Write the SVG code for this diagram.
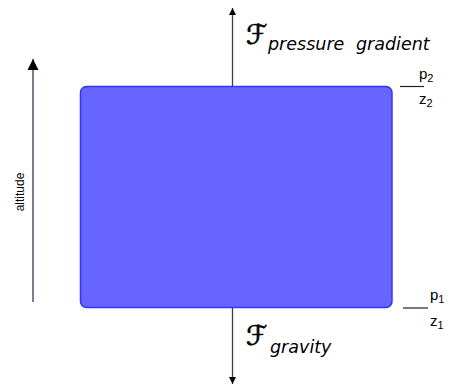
<svg xmlns="http://www.w3.org/2000/svg" width="450" height="386" viewBox="0 0 450 386">
  <style>
    .ln { stroke: #1e1e3c; stroke-width: 1.2; fill: none; }
    .lv { stroke: #3a3a5a; stroke-width: 1.3; fill: none; }
    .cal { font-family: "DejaVu Sans", "DejaVu Serif", sans-serif; font-size: 27px; fill: #000; stroke: #000; stroke-width: 0.6; }
    .sub { font-family: "DejaVu Sans", sans-serif; font-style: italic; font-size: 17.5px; fill: #000; }
    .lab { font-family: "Liberation Sans", Arial, sans-serif; font-size: 15px; fill: #000; }
    .labs { font-family: "Liberation Sans", Arial, sans-serif; font-size: 11px; fill: #000; }
    .alt { font-family: "Liberation Sans", Arial, sans-serif; font-size: 12px; fill: #000; }
  </style>
  <defs>
    <marker id="ah" viewBox="0 0 10 10" refX="10" refY="5" markerWidth="8" markerHeight="7" markerUnits="userSpaceOnUse" orient="auto">
      <path d="M0,0 L10,5 L0,10 Z" fill="#000"/>
    </marker>
    <marker id="ahb" viewBox="0 0 10 10" refX="10" refY="5" markerWidth="11" markerHeight="12" markerUnits="userSpaceOnUse" orient="auto">
      <path d="M0,0 L10,5 L0,10 Z" fill="#000"/>
    </marker>
  </defs>
  <g id="parcel">
    <rect x="80.5" y="86.5" width="311.5" height="221" rx="6" ry="6" fill="#6666ff" stroke="#3333ff" stroke-width="1.5"/>
  </g>
  <g id="connectors">
    <line class="lv" x1="232.5" y1="86" x2="232.5" y2="8" marker-end="url(#ah)"/>
    <line class="lv" x1="232.5" y1="308" x2="232.5" y2="384" marker-end="url(#ah)"/>
    <line class="lv" x1="33" y1="302" x2="33" y2="59" marker-end="url(#ahb)"/>
    <line class="ln" x1="400" y1="86.5" x2="424" y2="86.5"/>
    <line class="ln" x1="403" y1="308" x2="428" y2="308"/>
  </g>
  <g id="label-pressure">
    <text class="cal" x="246" y="44">ℱ</text>
    <text class="sub" x="268" y="50" word-spacing="6">pressure gradient</text>
  </g>
  <g id="label-gravity">
    <text class="cal" x="246" y="345">ℱ</text>
    <text class="sub" x="270" y="353">gravity</text>
  </g>
  <g id="label-p2z2">
    <text class="lab" x="419" y="79">p<tspan class="labs" dy="3">2</tspan></text>
    <text class="lab" x="419" y="104">z<tspan class="labs" dy="3">2</tspan></text>
  </g>
  <g id="label-p1z1">
    <text class="lab" x="430" y="300">p<tspan class="labs" dy="3">1</tspan></text>
    <text class="lab" x="430" y="326">z<tspan class="labs" dy="3">1</tspan></text>
  </g>
  <g id="label-altitude">
    <text class="alt" x="0" y="0" text-anchor="middle" transform="translate(24,192) rotate(-90)">altitude</text>
  </g>
</svg>
